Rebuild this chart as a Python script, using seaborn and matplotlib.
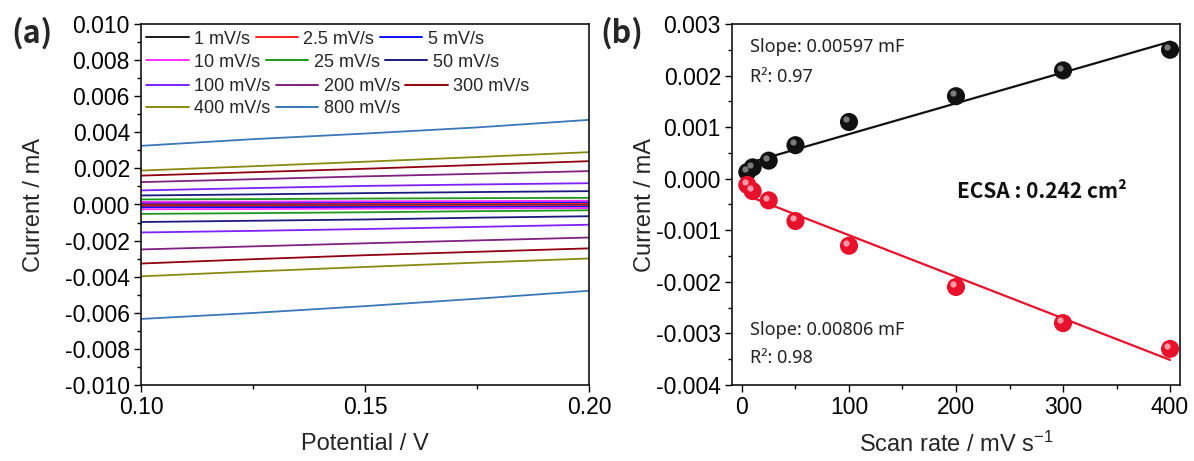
import numpy as np
import pandas as pd
import matplotlib
matplotlib.use("Agg")
import matplotlib.pyplot as plt
import matplotlib.transforms as mtransforms
from matplotlib.ticker import MultipleLocator, AutoMinorLocator, FormatStrFormatter
from matplotlib.lines import Line2D
from matplotlib.legend import Legend
import seaborn as sns

# ---------------- data: panel (a) CV curves ----------------
potential = [0.10, 0.125, 0.15, 0.175, 0.20]
rates = ["1 mV/s", "2.5 mV/s", "5 mV/s", "10 mV/s", "25 mV/s", "50 mV/s",
         "100 mV/s", "200 mV/s", "300 mV/s", "400 mV/s", "800 mV/s"]
upper = {
    "1 mV/s":   [0.00003, 0.00003, 0.00004, 0.00004, 0.00005],
    "2.5 mV/s": [0.00005, 0.00006, 0.00006, 0.00007, 0.00008],
    "5 mV/s":   [0.00010, 0.00011, 0.00012, 0.00013, 0.00014],
    "10 mV/s":  [0.00015, 0.00016, 0.00018, 0.00019, 0.00021],
    "25 mV/s":  [0.00028, 0.00030, 0.00033, 0.00035, 0.00037],
    "50 mV/s":  [0.00050, 0.00056, 0.00063, 0.00069, 0.00074],
    "100 mV/s": [0.00078, 0.00091, 0.00103, 0.00111, 0.00118],
    "200 mV/s": [0.00124, 0.00140, 0.00156, 0.00170, 0.00185],
    "300 mV/s": [0.00160, 0.00179, 0.00198, 0.00219, 0.00240],
    "400 mV/s": [0.00188, 0.00212, 0.00237, 0.00263, 0.00290],
    "800 mV/s": [0.00325, 0.00362, 0.00393, 0.00427, 0.00469],
}
lower = {
    "1 mV/s":   [-0.00006, -0.00006, -0.00005, -0.00005, -0.00004],
    "2.5 mV/s": [-0.00010, -0.00009, -0.00009, -0.00008, -0.00007],
    "5 mV/s":   [-0.00016, -0.00015, -0.00014, -0.00013, -0.00012],
    "10 mV/s":  [-0.00026, -0.00025, -0.00023, -0.00022, -0.00020],
    "25 mV/s":  [-0.00052, -0.00048, -0.00043, -0.00037, -0.00032],
    "50 mV/s":  [-0.00097, -0.00090, -0.00083, -0.00073, -0.00065],
    "100 mV/s": [-0.00155, -0.00146, -0.00136, -0.00124, -0.00112],
    "200 mV/s": [-0.00249, -0.00232, -0.00215, -0.00199, -0.00183],
    "300 mV/s": [-0.00327, -0.00303, -0.00281, -0.00262, -0.00243],
    "400 mV/s": [-0.00398, -0.00371, -0.00346, -0.00322, -0.00299],
    "800 mV/s": [-0.00634, -0.00601, -0.00563, -0.00522, -0.00478],
}
colors_a = ["#1a1a1a", "#ff2020", "#1010ff", "#ff30ff", "#1a9a1a", "#1a1a80",
            "#8020ff", "#802080", "#900010", "#8a8a10", "#3a78b8"]
legend_rows = [[0, 1, 2], [3, 4, 5], [6, 7, 8], [9, 10]]

# ---------------- data: panel (b) ----------------
scan_rate = [5, 10, 25, 50, 100, 200, 300, 400]
i_anodic = [0.00013, 0.00022, 0.00035, 0.00065, 0.0011, 0.0016, 0.0021, 0.0025]
i_cathodic = [-0.00012, -0.00024, -0.00042, -0.00082, -0.0013, -0.0021, -0.0028, -0.0033]
slope_anodic_mF = 0.00597
slope_cathodic_mF = 0.00806
r2_anodic = 0.97
r2_cathodic = 0.98
ecsa = 0.242

# ---------------- style ----------------
sns.set_theme(style="ticks")
plt.rcParams.update({
    "font.family": ["Liberation Sans", "DejaVu Sans"],
    "axes.unicode_minus": False,
    "mathtext.default": "regular",
    "axes.linewidth": 1.1,
    "axes.edgecolor": "black",
    "xtick.direction": "out",
    "ytick.direction": "out",
    "xtick.major.size": 5, "ytick.major.size": 5,
    "xtick.minor.size": 3, "ytick.minor.size": 3,
    "xtick.major.width": 1.0, "ytick.major.width": 1.0,
    "xtick.minor.width": 1.0, "ytick.minor.width": 1.0,
    "xtick.color": "black", "ytick.color": "black",
    "xtick.labelsize": 16.5, "ytick.labelsize": 16.5,
})

fig = plt.figure(figsize=(11.94, 4.61), dpi=100)
ax1 = fig.add_axes([141/1194, 76/461, (589-141)/1194, (385-24)/461])
ax2 = fig.add_axes([732/1194, 76/461, (1180-732)/1194, (385-24)/461])

# ---------------- panel (a) ----------------
rows = []
for r in rates:
    for x, y in zip(potential, upper[r]):
        rows.append({"potential": x, "current": y, "rate": r, "branch": "up"})
    for x, y in zip(potential[::-1], lower[r][::-1]):
        rows.append({"potential": x, "current": y, "rate": r, "branch": "down"})
df_a = pd.DataFrame(rows)
pal = dict(zip(rates, colors_a))
sns.lineplot(data=df_a, x="potential", y="current", hue="rate", units="branch",
             estimator=None, sort=False, palette=pal, hue_order=rates,
             linewidth=1.3, legend=False, ax=ax1)

ax1.set_xlim(0.10, 0.20)
ax1.set_ylim(-0.010, 0.010)
ax1.xaxis.set_major_locator(MultipleLocator(0.05))
ax1.xaxis.set_minor_locator(AutoMinorLocator(2))
ax1.xaxis.set_major_formatter(FormatStrFormatter("%.2f"))
ax1.yaxis.set_major_locator(MultipleLocator(0.002))
ax1.yaxis.set_minor_locator(AutoMinorLocator(2))
ax1.yaxis.set_major_formatter(FormatStrFormatter("%.3f"))
ax1.tick_params(axis="both", which="both", pad=3)
ax1.set_xlabel("Potential / V", fontsize=17, labelpad=10)
ax1.set_ylabel("Current / mA", fontsize=17, labelpad=14)

# legend: rows flowing left to right, as in the original
row_y = [0.958, 0.894, 0.826, 0.765]
for ry, idx in zip(row_y, legend_rows):
    hs = [Line2D([], [], color=colors_a[i], lw=1.4) for i in idx]
    lg = Legend(ax1, hs, [rates[i] for i in idx], ncol=len(idx), loc="center left",
                bbox_to_anchor=(0.012, ry), frameon=False, fontsize=13,
                handlelength=2.35, handletextpad=0.3, columnspacing=0.3,
                borderaxespad=0.0, borderpad=0.0)
    ax1.add_artist(lg)

# ---------------- panel (b) ----------------
df_b = pd.DataFrame({"scan": scan_rate * 2,
                     "current": i_anodic + i_cathodic,
                     "kind": ["anodic"] * len(scan_rate) + ["cathodic"] * len(scan_rate)})
xs = np.array(scan_rate, dtype=float)
fit_rows = []
for kind, ys, slope_mF in [("anodic", i_anodic, slope_anodic_mF),
                           ("cathodic", i_cathodic, -slope_cathodic_mF)]:
    m = slope_mF / 1000.0
    b = np.mean(ys) - m * np.mean(xs)
    for x in [xs.min(), xs.max()]:
        fit_rows.append({"scan": x, "current": m * x + b, "kind": kind})
df_fit = pd.DataFrame(fit_rows)
pal_b = {"anodic": "#111111", "cathodic": "#e8102a"}
sns.lineplot(data=df_fit, x="scan", y="current", hue="kind", palette=pal_b,
             linewidth=1.6, legend=False, ax=ax2, zorder=2)
sns.scatterplot(data=df_b, x="scan", y="current", hue="kind", palette=pal_b,
                s=170, edgecolor=None, linewidth=0, legend=False, ax=ax2, zorder=3)
hl = mtransforms.offset_copy(ax2.transData, fig=fig, x=-2.0, y=2.0, units="points")
for kind, ys, hc in [("anodic", i_anodic, "#7a7a7a"), ("cathodic", i_cathodic, "#ff9aa8")]:
    ax2.scatter(scan_rate, ys, s=20, color=hc, transform=hl, zorder=4, linewidths=0)

ax2.set_xlim(-9.3, 409.3)
ax2.set_ylim(-0.004, 0.003)
ax2.xaxis.set_major_locator(MultipleLocator(100))
ax2.xaxis.set_minor_locator(AutoMinorLocator(2))
ax2.yaxis.set_major_locator(MultipleLocator(0.001))
ax2.yaxis.set_minor_locator(AutoMinorLocator(2))
ax2.yaxis.set_major_formatter(FormatStrFormatter("%.3f"))
ax2.tick_params(axis="both", which="both", pad=3)
ax2.set_xlabel("Scan rate / mV s$^{-1}$", fontsize=17, labelpad=9)
ax2.set_ylabel("Current / mA", fontsize=17, labelpad=0)

tfont = ["Noto Sans", "DejaVu Sans"]
bfont = ["Noto Sans CJK KR", "DejaVu Sans"]
tcol = "#222222"
ax2.text(0.04, 0.935, f"Slope: {slope_anodic_mF:.5f} mF", transform=ax2.transAxes,
         fontsize=13, family=tfont, va="center", ha="left", color=tcol)
ax2.text(0.04, 0.852, f"R\u00b2: {r2_anodic:.2f}", transform=ax2.transAxes,
         fontsize=13, family=tfont, va="center", ha="left", color=tcol)
ax2.text(0.04, 0.152, f"Slope: {slope_cathodic_mF:.5f} mF", transform=ax2.transAxes,
         fontsize=13, family=tfont, va="center", ha="left", color=tcol)
ax2.text(0.04, 0.075, f"R\u00b2: {r2_cathodic:.2f}", transform=ax2.transAxes,
         fontsize=13, family=tfont, va="center", ha="left", color=tcol)
ax2.text(0.692, 0.535, f"ECSA : {ecsa:.3f} cm\u00b2", transform=ax2.transAxes,
         fontsize=15, family=bfont, fontweight="bold", va="center", ha="center",
         color="#111111")

fig.text(11/1194, 1 - 33/461, "(a)", fontsize=22, fontweight="bold", family=bfont,
         va="center", ha="left")
fig.text(600/1194, 1 - 33/461, "(b)", fontsize=22, fontweight="bold", family=bfont,
         va="center", ha="left")

fig.savefig("out.png", dpi=100)
